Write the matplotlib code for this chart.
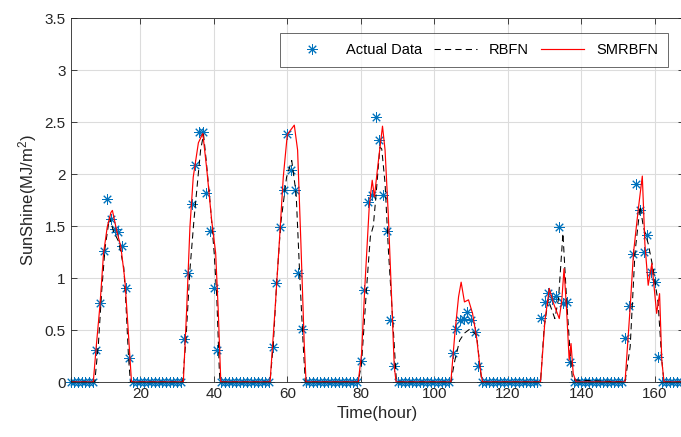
import numpy as np
import matplotlib
matplotlib.use("Agg")
import matplotlib.pyplot as plt

plt.rcParams['font.family'] = ['Liberation Sans', 'DejaVu Sans']
plt.rcParams['mathtext.default'] = 'regular'

# ------------------------------
# DATA
# ------------------------------
hours = np.arange(1, 169)

# measured sunshine, nonzero daytime hours only (all other hours are 0)
day_start = [8, 32, 56, 80, 105, 129, 152]
day_values = [
    [0.31, 0.76, 1.26, 1.76, 1.57, 1.47, 1.44, 1.31, 0.90, 0.23],
    [0.41, 1.05, 1.71, 2.09, 2.40, 2.40, 1.82, 1.45, 0.90, 0.31],
    [0.34, 0.95, 1.49, 1.85, 2.38, 2.04, 1.85, 1.05, 0.51],
    [0.20, 0.88, 1.73, 1.80, 2.55, 2.33, 1.80, 1.45, 0.60, 0.15],
    [0.28, 0.51, 0.60, 0.61, 0.67, 0.60, 0.48, 0.15],
    [0.62, 0.77, 0.86, 0.80, 0.83, 1.49, 0.76, 0.77, 0.19],
    [0.42, 0.73, 1.23, 1.90, 1.65, 1.25, 1.41, 1.06, 0.96, 0.24],
]

# RBFN model curve
rbfn_t = [1, 7.6, 8.6, 9.5, 10.4, 11.6, 12.7, 14.1, 15.5, 16.1, 16.8, 17.3,
          31.5, 32.4, 33.5, 34.6, 35.8, 36.4, 37.2, 37.9, 39.0, 40.1, 40.8, 41.5, 41.7,
          55.3, 56.2, 57.1, 58.2, 59.8, 61.2, 62.4, 63.4, 64.3, 64.9,
          79.3, 80.2, 81.6, 82.6, 83.4, 84.1, 85.2, 85.7, 86.6, 87.5, 88.9, 89.7,
          104.5, 105.6, 106.9, 108.2, 109.7, 111.5, 112.4, 112.9,
          128.9, 129.9, 131.0, 132.8, 133.8, 135.0, 136.0, 136.9, 137.6,
          151.9, 153.3, 154.6, 156.0, 156.9, 158.2, 159.6, 160.9, 161.9, 162.5, 168]
rbfn_v = [0, 0, 0.37, 0.88, 1.29, 1.58, 1.45, 1.35, 1.10, 0.74, 0.23, 0,
          0, 0.40, 1.08, 1.56, 2.01, 2.23, 2.38, 2.14, 1.72, 1.24, 0.82, 0.11, 0,
          0, 0.37, 0.95, 1.52, 1.97, 2.13, 1.81, 1.01, 0.37, 0,
          0, 0.18, 0.92, 1.40, 1.50, 1.78, 2.26, 2.24, 1.91, 1.27, 0.47, 0,
          0, 0.21, 0.40, 0.47, 0.51, 0.45, 0.16, 0,
          0, 0.53, 0.79, 0.61, 0.80, 1.43, 0.79, 0.31, 0.02,
          0, 0.34, 1.24, 1.69, 1.49, 1.33, 1.08, 0.76, 0.21, 0, 0]

# SMRBFN model curve
smrbfn_t = [1, 7.2, 8.0, 9.0, 10.0, 11.0, 12.0, 12.4, 13.0, 13.6, 14.7, 15.8, 16.7, 17.6,
            31.7, 32.6, 33.5, 34.4, 35.8, 37.0, 38.1, 39.4, 40.5, 41.2, 41.9,
            55.3, 56.65, 57.8, 58.9, 60.0, 61.9, 62.8, 63.7, 64.6, 65.1,
            79.3, 80.2, 81.1, 82.3, 83.1, 83.7, 84.6, 85.9, 86.6, 87.5, 88.4, 89.1, 89.6,
            104.5, 105.6, 106.6, 107.3, 108.2, 109.3, 110.4, 111.5, 112.4, 113.1,
            128.9, 130.1, 131.3, 132.4, 134.0, 134.7, 135.3, 136.0, 136.7, 137.2, 137.8, 138.6,
            151.9, 153.3, 154.2, 155.5, 156.6, 157.3, 158.2, 159.2, 160.5, 161.3, 161.9, 162.5, 168]
smrbfn_v = [0, 0, 0.34, 0.73, 1.24, 1.49, 1.63, 1.65, 1.55, 1.45, 1.30, 0.98, 0.50, 0,
            0, 0.69, 1.49, 1.97, 2.30, 2.39, 2.04, 1.56, 1.24, 0.69, 0,
            0, 0.69, 1.33, 1.97, 2.38, 2.47, 2.23, 1.33, 0.37, 0,
            0, 0.27, 0.92, 1.69, 1.94, 1.78, 2.07, 2.46, 2.23, 1.59, 0.79, 0.15, 0,
            0, 0.47, 0.82, 0.96, 0.77, 0.79, 0.66, 0.43, 0.15, 0,
            0, 0.59, 0.90, 0.76, 0.61, 0.79, 1.09, 0.69, 0.21, 0.37, 0.08, 0,
            0, 0.72, 1.24, 1.66, 1.98, 1.33, 0.93, 1.14, 0.66, 0.85, 0.21, 0, 0]

actual = np.zeros(len(hours))
for start, vals in zip(day_start, day_values):
    actual[start - 1:start - 1 + len(vals)] = vals

# ------------------------------
# PLOT
# ------------------------------
fig = plt.figure(figsize=(6.81, 4.37), dpi=100)
ax = fig.add_axes([70.5 / 681, 55 / 437, 613.7 / 681, 364 / 437])

ax.plot(hours, actual, linestyle='none', marker=(8, 2, 0), markersize=7.5,
        markeredgewidth=0.7, color='#0072BD', label='Actual Data', clip_on=False)
ax.plot(rbfn_t, rbfn_v, '--', color='black', linewidth=0.75, dashes=(6, 4),
        label='RBFN')
ax.plot(smrbfn_t, smrbfn_v, '-', color='red', linewidth=0.85, label='SMRBFN')

ax.set_xlim(1, 168)
ax.set_ylim(0, 3.5)
ax.set_xticks(np.arange(20, 161, 20))
ax.set_yticks(np.arange(0, 3.51, 0.5))
ax.set_yticklabels(['0', '0.5', '1', '1.5', '2', '2.5', '3', '3.5'])
ax.grid(True, color='#dcdcdc', linewidth=0.8)
ax.set_axisbelow(True)
ax.tick_params(direction='in', top=True, right=True, labelsize=11,
               colors='#262626', length=4, width=0.6)
for s in ax.spines.values():
    s.set_linewidth(0.6)
    s.set_color('#262626')

ax.set_xlabel('Time(hour)', fontsize=12, color='#262626')
ax.set_ylabel('SunShine(MJ/m$^{2}$)', fontsize=12, color='#262626')

leg = ax.legend(ncol=3, loc='upper right', bbox_to_anchor=(0.974, 0.959),
                fontsize=10.5, frameon=True, fancybox=False, edgecolor='#262626',
                handlelength=3.0, columnspacing=0.8, handletextpad=0.8,
                borderpad=0.7, borderaxespad=0)
leg.get_frame().set_linewidth(0.6)

fig.savefig('out.png', dpi=100)
